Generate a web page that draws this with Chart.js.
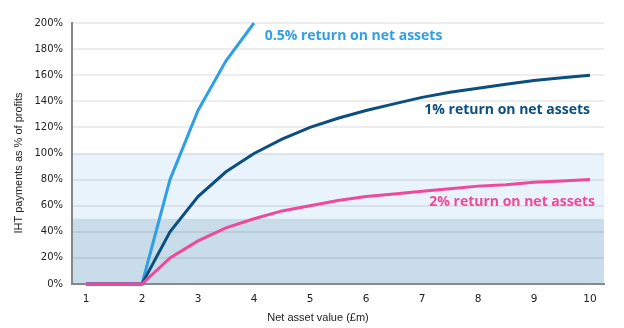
<!DOCTYPE html>
<html>
<head>
<meta charset="utf-8">
<script src="https://cdn.jsdelivr.net/npm/chart.js@4"></script>
<style>
  html, body { margin: 0; padding: 0; background: #fff; }
  #wrap { width: 624px; height: 328px; }
</style>
</head>
<body>
<div id="wrap"><canvas id="c" width="624" height="328"></canvas></div>
<script>
// net asset value (£m)
var netAssets = [1, 1.5, 2, 2.5, 3, 3.5, 4, 4.5, 5, 5.5, 6, 6.5, 7, 7.5, 8, 8.5, 9, 9.5, 10];
// IHT payments as % of profits
var half = [0, 0, 0, 80, 133, 171, 200, null, null, null, null, null, null, null, null, null, null, null, null];
var one = [0, 0, 0, 40, 67, 86, 100, 111, 120, 127, 133, 138, 143, 147, 150, 153, 156, 158, 160];
var two = [0, 0, 0, 20, 33, 43, 50, 56, 60, 64, 67, 69, 71, 73, 75, 76, 78, 79, 80];
var xTicks = [1, 2, 3, 4, 5, 6, 7, 8, 9, 10];
var seriesNames = ['0.5% return on net assets', '1% return on net assets', '2% return on net assets'];
var colors = ['#2f9fe6', '#0b4f80', '#f0489b'];

function pts(arr) {
  return netAssets.map(function(x, i) { return { x: x, y: arr[i] }; });
}

// shaded bands behind the grid
var bands = {
  id: 'bands',
  beforeDraw: function(chart) {
    var ctx = chart.ctx, a = chart.chartArea, y = chart.scales.y;
    ctx.save();
    ctx.fillStyle = '#e9f3fc';
    ctx.fillRect(a.left, y.getPixelForValue(100), a.right - a.left, y.getPixelForValue(50) - y.getPixelForValue(100));
    ctx.fillStyle = '#c9dce9';
    ctx.fillRect(a.left, y.getPixelForValue(50), a.right - a.left, y.getPixelForValue(0) - y.getPixelForValue(50));
    ctx.restore();
  }
};

// series labels and axis titles
var labels = {
  id: 'labels',
  afterDraw: function(chart) {
    var ctx = chart.ctx, xs = chart.scales.x, ys = chart.scales.y;
    ctx.save();
    ctx.font = 'bold 14px "Open Sans"';
    ctx.textBaseline = 'middle';
    ctx.fillStyle = colors[0];
    ctx.textAlign = 'left';
    ctx.fillText(seriesNames[0], xs.getPixelForValue(4.19), ys.getPixelForValue(190));
    ctx.textAlign = 'right';
    ctx.fillStyle = colors[1];
    ctx.fillText(seriesNames[1], xs.getPixelForValue(10), ys.getPixelForValue(133));
    ctx.fillStyle = colors[2];
    ctx.fillText(seriesNames[2], xs.getPixelForValue(10.09), ys.getPixelForValue(63));
    ctx.font = '11px "Liberation Sans"';
    ctx.fillStyle = '#222';
    ctx.textAlign = 'center';
    ctx.fillText('Net asset value (£m)', 318, 318);
    ctx.translate(19, 163);
    ctx.rotate(-Math.PI / 2);
    ctx.fillText('IHT payments as % of profits', 0, 0);
    ctx.restore();
  }
};

new Chart(document.getElementById('c'), {
  type: 'line',
  data: {
    datasets: [
      { data: pts(half), borderColor: colors[0], clip: false, order: 2 },
      { data: pts(one), borderColor: colors[1], clip: false, order: 1 },
      { data: pts(two), borderColor: colors[2], clip: false, order: 0 }
    ]
  },
  options: {
    responsive: false,
    animation: false,
    layout: { padding: { left: 10, right: 20, top: 23, bottom: 0 } },
    elements: {
      line: { borderWidth: 3, tension: 0, borderCapStyle: 'butt' },
      point: { radius: 0 }
    },
    plugins: { legend: { display: false }, tooltip: { enabled: false } },
    scales: {
      x: {
        type: 'linear',
        min: 0.75,
        max: 10.25,
        afterBuildTicks: function(s) { s.ticks = xTicks.map(function(v) { return { value: v }; }); },
        afterFit: function(s) { s.height = 44; },
        grid: { display: false, drawTicks: false },
        border: { color: '#888', width: 2 },
        ticks: { color: '#222', padding: 9, font: { family: 'DejaVu Sans', size: 10.5 } }
      },
      y: {
        min: 0,
        max: 200,
        afterFit: function(s) { s.width = 62; },
        grid: { color: 'rgba(0,0,0,0.07)', lineWidth: 2, drawTicks: false },
        border: { color: '#888', width: 2 },
        ticks: {
          stepSize: 20,
          color: '#222',
          padding: 9,
          font: { family: 'DejaVu Sans', size: 10 },
          callback: function(v) { return v + '%'; }
        }
      }
    }
  },
  plugins: [bands, labels]
});
</script>
</body>
</html>
